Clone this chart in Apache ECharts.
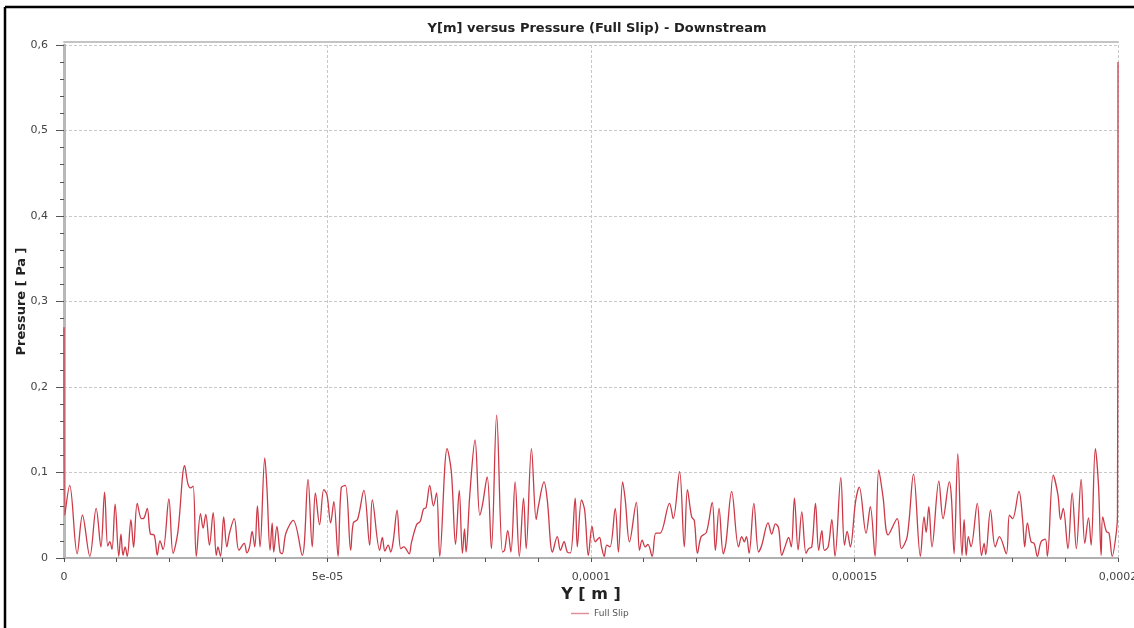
<!DOCTYPE html>
<html>
<head>
<meta charset="utf-8">
<script src="https://cdn.jsdelivr.net/npm/echarts@6/dist/echarts.min.js"></script>
<style>
html,body{margin:0;padding:0;background:#fff;overflow:hidden;}
#chart{width:1134px;height:628px;}
</style>
</head>
<body>
<div id="chart"></div>
<script>
// Y position in micrometres (converted to metres below)
const yPosMicro = [
0,0.15,1.08,2.5,3.5,4.9,6.1,7.0,7.7,8.3,8.7,9.1,9.7,10.4,10.8,11.2,11.6,12.0,12.7,13.2,13.9,14.7,15.2,15.8,16.4,17.1,17.7,18.2,18.8,19.9,
20.7,21.6,22.9,23.5,24.0,24.5,25.1,25.9,26.4,26.9,27.6,28.3,28.9,29.2,29.7,30.3,30.9,31.4,32.3,33.2,34.2,34.7,35.2,35.7,36.2,36.7,37.2,38.1,38.5,39.1,
39.5,39.8,40.4,41.0,41.4,42.1,43.5,45.2,46.3,47.1,47.7,48.5,49.3,49.9,50.6,51.2,52.0,52.6,53.4,54.4,54.9,55.7,56.9,58.0,58.5,59.9,60.4,60.9,61.5,62.0,
62.5,63.2,63.9,64.5,65.5,65.9,66.9,67.6,68.2,68.7,69.4,70.1,70.7,71.3,72.7,73.5,74.3,75.0,75.6,76.0,76.3,77.0,78.0,78.9,79.4,80.3,81.1,82.1,83.2,83.6,
84.2,84.8,85.6,86.4,87.2,87.7,88.7,89.6,90.0,91.1,91.7,92.7,93.6,94.2,94.9,95.5,96.1,97.0,97.4,98.2,98.8,99.5,100.2,100.8,101.6,102.0,102.5,103.0,103.6,104.6,
105.2,106.0,106.5,107.3,108.6,109.2,109.7,110.3,110.8,111.6,112.3,113.1,114.9,115.6,116.8,117.7,118.3,119.1,119.6,120.2,120.9,121.9,123.0,123.6,124.3,125.1,125.6,126.7,128.0,128.6,
129.1,129.5,130.0,130.9,131.8,132.4,133.6,134.3,135.0,135.6,136.2,136.8,137.5,138.0,138.6,139.3,140.0,140.8,141.3,141.9,142.6,143.2,143.8,144.3,145.0,145.7,146.3,147.4,148.1,148.6,
149.2,150.2,150.9,152.2,153.0,153.9,154.6,155.4,156.4,158.1,158.9,160.0,161.2,162.5,163.2,163.6,164.1,164.7,166.0,166.8,168.0,168.4,168.9,169.6,170.4,170.8,171.2,171.6,172.1,173.3,
174.1,174.6,174.9,175.8,176.7,177.5,178.8,179.4,180.0,181.2,181.9,182.3,182.8,183.5,184.1,184.7,185.4,186.2,186.6,187.7,188.6,189.1,189.6,190.5,191.3,192.1,193.0,193.7,194.4,194.9,
195.7,196.3,196.8,197.1,197.8,198.3,198.9,199.7,199.9,200
];
// Pressure in Pa
const pressure = [
0.27,0.05,0.085,0.005,0.050,0.002,0.058,0.013,0.077,0.014,0.019,0.010,0.063,0.002,0.028,0.003,0.013,0.002,0.045,0.0125,0.064,0.046,0.047,0.058,0.028,0.027,0.0035,0.020,0.010,0.069,
0.0055,0.030,0.108,0.087,0.082,0.084,0.002,0.052,0.035,0.051,0.015,0.053,0.003,0.013,0.002,0.048,0.013,0.029,0.046,0.009,0.017,0.006,0.013,0.031,0.013,0.061,0.013,0.117,0.083,0.009,
0.041,0.007,0.037,0.007,0.005,0.029,0.044,0.003,0.092,0.013,0.076,0.039,0.080,0.074,0.041,0.066,0.002,0.082,0.085,0.009,0.041,0.045,0.079,0.015,0.068,0.009,0.024,0.008,0.015,0.007,
0.021,0.056,0.011,0.013,0.005,0.017,0.039,0.043,0.057,0.059,0.085,0.061,0.076,0.002,0.128,0.101,0.016,0.079,0.0055,0.034,0.007,0.074,0.138,0.050,0.062,0.095,0.011,0.167,0.007,0.009,
0.032,0.007,0.089,0.002,0.070,0.011,0.128,0.045,0.060,0.089,0.068,0.007,0.025,0.009,0.019,0.007,0.006,0.070,0.013,0.068,0.056,0.003,0.037,0.019,0.024,0.013,0.002,0.015,0.013,0.058,
0.007,0.089,0.068,0.019,0.065,0.009,0.021,0.013,0.016,0.002,0.029,0.029,0.064,0.046,0.101,0.013,0.080,0.048,0.044,0.0055,0.025,0.030,0.065,0.009,0.058,0.005,0.017,0.078,0.013,0.025,
0.019,0.025,0.0055,0.064,0.007,0.015,0.041,0.028,0.040,0.035,0.003,0.013,0.024,0.013,0.070,0.0095,0.054,0.0055,0.011,0.013,0.064,0.009,0.032,0.009,0.013,0.045,0.002,0.094,0.015,0.031,
0.013,0.066,0.083,0.029,0.060,0.002,0.103,0.072,0.027,0.046,0.011,0.025,0.098,0.002,0.048,0.030,0.060,0.013,0.090,0.046,0.089,0.070,0.005,0.122,0.003,0.045,0.003,0.025,0.013,0.064,
0.003,0.017,0.004,0.056,0.013,0.025,0.005,0.050,0.046,0.078,0.045,0.013,0.041,0.019,0.017,0.002,0.019,0.022,0.002,0.097,0.074,0.045,0.058,0.011,0.076,0.011,0.092,0.017,0.047,0.015,
0.128,0.085,0.003,0.048,0.031,0.029,0.002,0.031,0.05,0.58
];
const xTickLabels = ['0', '5e-05', '0,0001', '0,00015', '0,0002'];
const seriesName = 'Full Slip';
const titleText = 'Y[m] versus Pressure (Full Slip) - Downstream';

const seriesData = yPosMicro.map((x, i) => [x * 1e-6, pressure[i]]);

const chart = echarts.init(document.getElementById('chart'), null, {renderer: 'canvas'});
const font = 'DejaVu Sans, Verdana, sans-serif';
chart.setOption({
  animation: false,
  backgroundColor: '#fff',
  legend: {
    data: [seriesName],
    left: 566, top: 604,
    icon: 'rect', itemWidth: 18, itemHeight: 1.5, itemGap: 5,
    textStyle: {fontFamily: font, fontSize: 9, color: '#555'},
    itemStyle: {color: '#e0909a'}
  },
  grid: {left: 64, right: 16, top: 45, bottom: 70, containLabel: false, outerBoundsMode: 'none'},
  xAxis: [{
    type: 'value', min: 0, max: 0.0002, interval: 0.00005,
    offset: 5,
    name: 'Y [ m ]', nameLocation: 'middle', nameGap: 24, nameMoveOverlap: false,
    nameTextStyle: {fontFamily: font, fontWeight: 'bold', fontSize: 16, color: '#222'},
    axisLine: {show: true, lineStyle: {color: '#b0b0b0', width: 2}},
    axisTick: {show: true, length: 4, lineStyle: {color: '#555'}},
    minorTick: {show: true, splitNumber: 5, length: 4, lineStyle: {color: '#555'}},
    axisLabel: {
      margin: 9, fontFamily: font, fontSize: 11, color: '#444', hideOverlap: false,
      formatter: v => xTickLabels[Math.round(v / 0.00005)]
    },
    splitLine: {show: true, lineStyle: {color: '#c8c8c8', type: [3, 2], width: 1}}
  }, {
    type: 'value', min: 0, max: 0.0002, position: 'top', offset: 3,
    axisLine: {show: true, lineStyle: {color: '#c4c4c4', width: 2}},
    axisTick: {show: false}, axisLabel: {show: false}, splitLine: {show: false}
  }],
  yAxis: {
    type: 'value', min: 0, max: 0.6, interval: 0.1,
    offset: 2,
    name: 'Pressure [ Pa ]', nameLocation: 'middle', nameGap: 34, nameRotate: 90, nameMoveOverlap: false,
    nameTextStyle: {fontFamily: font, fontWeight: 'bold', fontSize: 13, color: '#222'},
    axisLine: {show: true, lineStyle: {color: '#b8b8b8', width: 3}},
    axisTick: {show: true, length: 8, lineStyle: {color: '#555'}},
    minorTick: {show: true, splitNumber: 5, length: 4, lineStyle: {color: '#555'}},
    axisLabel: {
      margin: 14, fontFamily: font, fontSize: 11, color: '#444',
      formatter: v => (Math.round(v * 10) / 10).toString().replace('.', ',')
    },
    splitLine: {show: true, lineStyle: {color: '#c8c8c8', type: [3, 2], width: 1}}
  },
  series: [{
    name: seriesName,
    type: 'line',
    data: seriesData,
    showSymbol: false, symbol: 'none',
    smooth: 0.35,
    lineStyle: {color: '#cc3a48', width: 1.3},
    itemStyle: {color: '#e0909a'}
  }],
  graphic: [{
    type: 'text', silent: true,
    x: 597, y: 28.5,
    style: {text: titleText, x: 0, y: 0, align: 'center', verticalAlign: 'middle',
      font: 'bold 13px DejaVu Sans, Verdana, sans-serif', fill: '#222'}
  }, {
    type: 'line', silent: true, z: 100,
    shape: {x1: 5, y1: 7, x2: 1134, y2: 7},
    style: {stroke: '#000', lineWidth: 2.5}
  }, {
    type: 'line', silent: true, z: 100,
    shape: {x1: 5, y1: 7, x2: 5, y2: 628},
    style: {stroke: '#000', lineWidth: 2.5}
  }]
});
</script>
</body>
</html>
